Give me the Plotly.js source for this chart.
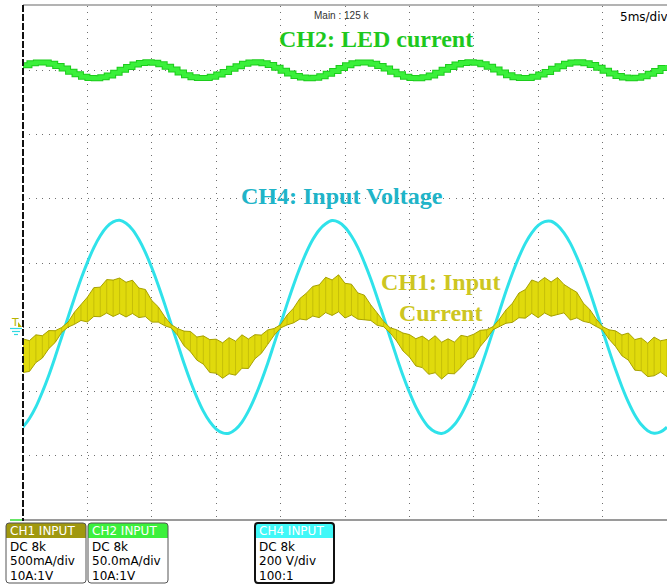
<!DOCTYPE html>
<html>
<head>
<meta charset="utf-8">
<script src="https://cdn.plot.ly/plotly-3.0.1.min.js"></script>
<style>
  html, body { margin: 0; padding: 0; background: #ffffff; }
  #scope { width: 667px; height: 585px; }
</style>
</head>
<body>
<div id="scope"></div>
<script>
// Sample interval of the acquisition (ms); 101 samples cover the 50 ms screen.
const STEP_MS = 0.5;

// CH4: input voltage (V)
const ch4Volts = [
  -311, -284, -248, -202, -150, -92, -31, 31, 92, 150,
  202, 248, 285, 312, 328, 333, 324, 304, 273, 233,
  185, 131, 72, 10, -51, -112, -168, -218, -261, -294,
  -317, -329, -330, -318, -295, -261, -218, -168, -112, -51,
  10, 72, 131, 185, 233, 273, 303, 322, 332, 327,
  311, 284, 248, 202, 150, 92, 31, -31, -92, -150,
  -202, -248, -284, -311, -326, -331, -322, -303, -273, -233,
  -185, -131, -72, -10, 51, 112, 168, 218, 261, 294,
  317, 329, 330, 317, 294, 261, 218, 168, 112, 51,
  -10, -72, -131, -185, -233, -273, -303, -322, -330, -326,
  -311
];

// CH1: input current, upper edge of the noisy band (mA)
const ch1HiMilliamps = [
  -91, -104, -59, -66, -26, -27, -2, 40, 118, 174,
  234, 308, 312, 371, 367, 383, 350, 366, 305, 294,
  208, 159, 83, 21, -10, -30, -33, -76, -67, -96,
  -93, -121, -81, -108, -59, -91, -58, -61, -21, -10,
  20, 95, 148, 224, 265, 318, 330, 389, 368, 408,
  342, 335, 267, 250, 174, 111, 45, -4, -19, -45,
  -57, -89, -69, -105, -66, -117, -90, -116, -63, -73,
  -54, -24, -19, 5, 65, 135, 187, 266, 293, 368,
  349, 387, 352, 387, 333, 301, 272, 188, 139, 65,
  5, -20, -28, -60, -45, -96, -84, -124, -77, -105,
  -95
];

// CH1: input current, lower edge of the noisy band (mA)
const ch1LoMilliamps = [
  -352, -344, -275, -240, -167, -118, -41, 1, 23, 53,
  41, 84, 82, 111, 84, 107, 80, 107, 75, 83,
  40, 40, 12, -5, -62, -144, -190, -256, -287, -352,
  -358, -397, -362, -373, -319, -321, -246, -204, -133, -62,
  -6, 18, 34, 64, 57, 87, 75, 114, 92, 120,
  72, 95, 63, 60, 53, 15, 4, -43, -106, -184,
  -231, -301, -314, -366, -354, -403, -360, -362, -314, -252,
  -233, -150, -90, -19, 6, 31, 38, 74, 71, 108,
  74, 111, 86, 98, 112, 56, 73, 46, 35, 6,
  -20, -93, -149, -222, -256, -334, -339, -384, -378, -349,
  -385
];

// CH2: LED current (mA)
const ch2Milliamps = [
  353.9, 355.4, 356.1, 356.0, 355.1, 353.4, 351.3, 348.9, 346.8, 345.0,
  344.0, 343.8, 344.5, 346.0, 348.0, 350.3, 352.5, 354.4, 355.7, 356.2,
  355.8, 354.6, 352.7, 350.5, 348.2, 346.1, 344.6, 343.9, 344.0, 344.9,
  346.6, 348.7, 351.1, 353.2, 355.0, 356.0, 356.2, 355.5, 354.0, 352.0,
  349.7, 347.5, 345.6, 344.3, 343.8, 344.2, 345.4, 347.3, 349.5, 351.8,
  353.9, 355.4, 356.1, 356.0, 355.1, 353.4, 351.3, 348.9, 346.8, 345.0,
  344.0, 343.8, 344.5, 346.0, 348.0, 350.3, 352.5, 354.4, 355.7, 356.2,
  355.8, 354.6, 352.7, 350.5, 348.2, 346.1, 344.6, 343.9, 344.0, 344.9,
  346.6, 348.7, 351.1, 353.2, 355.0, 356.0, 356.2, 355.5, 354.0, 352.0,
  349.7, 347.5, 345.6, 344.3, 343.8, 344.2, 345.4, 347.3, 349.5, 351.8,
  353.9
];

// Channel setup boxes under the screen
const boxHeaders  = ['CH1 INPUT', 'CH2 INPUT', 'CH4 INPUT'];
const boxCoupling = ['DC 8k', 'DC 8k', 'DC 8k'];
const boxScale    = ['500mA/div', '50.0mA/div', '200 V/div'];
const boxProbe    = ['10A:1V', '10A:1V', '100:1'];

const timeMs = ch4Volts.map((_, i) => i * STEP_MS);

// Vertical noise strokes of the CH1 band, one per sample, from its lower to its upper edge
const strokeX = [], strokeY = [];
timeMs.forEach((t, i) => {
  strokeX.push(t, t, null);
  strokeY.push(ch1LoMilliamps[i], ch1HiMilliamps[i], null);
});

// ---- screen geometry (pixels) ----
const PL = 23, PT = 6, PW = 644, PH = 514;
const X = px => (px - PL) / PW;
const Y = py => (PT + PH - py) / PH;

function roundRect(x0, y0, x1, y1, r, topOnly) {
  const rb = topOnly ? 0 : r;
  return `M ${X(x0 + r)},${Y(y0)} L ${X(x1 - r)},${Y(y0)} Q ${X(x1)},${Y(y0)} ${X(x1)},${Y(y0 + r)} ` +
         `L ${X(x1)},${Y(y1 - rb)} Q ${X(x1)},${Y(y1)} ${X(x1 - rb)},${Y(y1)} ` +
         `L ${X(x0 + rb)},${Y(y1)} Q ${X(x0)},${Y(y1)} ${X(x0)},${Y(y1 - rb)} ` +
         `L ${X(x0)},${Y(y0 + r)} Q ${X(x0)},${Y(y0)} ${X(x0 + r)},${Y(y0)} Z`;
}

// Main y axis carries CH4 (200 V/div); CH1 and CH2 ride on overlaid axes.
const traces = [
  // CH1 band: lower edge, then upper edge filled down to it
  { x: timeMs, y: ch1LoMilliamps, yaxis: 'y2', mode: 'lines',
    line: { color: '#a8a200', width: 1 }, hoverinfo: 'skip' },
  { x: timeMs, y: ch1HiMilliamps, yaxis: 'y2', mode: 'lines', fill: 'tonexty',
    fillcolor: '#e0da0c', line: { color: '#a8a200', width: 1 }, hoverinfo: 'skip' },
  { x: strokeX, y: strokeY, yaxis: 'y2', mode: 'lines', connectgaps: false,
    line: { color: 'rgba(135,130,0,0.3)', width: 1 }, hoverinfo: 'skip' },
  // CH4 voltage
  { x: timeMs, y: ch4Volts, yaxis: 'y', mode: 'lines',
    line: { color: '#2fe2ea', width: 3, shape: 'spline' }, hoverinfo: 'skip' },
  // CH2 LED current, stepped like the scope's pixel trace
  { x: timeMs, y: ch2Milliamps, yaxis: 'y3', mode: 'lines',
    line: { color: '#1ccc1c', width: 6, shape: 'hv' }, hoverinfo: 'skip' },
  { x: timeMs, y: ch2Milliamps, yaxis: 'y3', mode: 'lines',
    line: { color: '#3af03a', width: 4, shape: 'hv' }, hoverinfo: 'skip' }
];

const shapes = [
  // screen borders
  { type: 'line', xref: 'paper', yref: 'paper', x0: X(23), x1: X(667), y0: Y(5), y1: Y(5),
    line: { color: '#9a9a9a', width: 1.5 } },
  { type: 'line', xref: 'paper', yref: 'paper', x0: X(23), x1: X(667), y0: Y(520), y1: Y(520),
    line: { color: '#9a9a9a', width: 2 } },
  { type: 'line', xref: 'paper', yref: 'paper', x0: X(23), x1: X(23), y0: Y(5), y1: Y(521),
    line: { color: '#111111', width: 2, dash: '7px,2px' } },
  // CH2 ground marker
  { type: 'line', xref: 'paper', yref: 'paper', x0: X(10), x1: X(22), y0: Y(520), y1: Y(520),
    line: { color: '#33dd33', width: 1.5 } },
  // trigger flag
  { type: 'path', xref: 'paper', yref: 'paper',
    path: `M ${X(18)},${Y(322)} L ${X(22)},${Y(327)} L ${X(18)},${Y(327)} Z`,
    fillcolor: '#b8b400', line: { width: 0 } },
  // CH4 ground symbol
  { type: 'line', xref: 'paper', yref: 'paper', x0: X(10), x1: X(22), y0: Y(328.5), y1: Y(328.5),
    line: { color: '#30d8e0', width: 1.2 } },
  { type: 'line', xref: 'paper', yref: 'paper', x0: X(12), x1: X(20), y0: Y(331.5), y1: Y(331.5),
    line: { color: '#30d8e0', width: 1.2 } },
  { type: 'line', xref: 'paper', yref: 'paper', x0: X(14), x1: X(18), y0: Y(334.5), y1: Y(334.5),
    line: { color: '#30d8e0', width: 1.2 } }
];

const annotations = [
  { text: 'CH2: LED current', x: X(376), y: Y(39), xref: 'paper', yref: 'paper',
    showarrow: false, xanchor: 'center', yanchor: 'middle',
    font: { family: 'Liberation Serif', size: 24, weight: 'bold', color: '#1ec81e' } },
  { text: 'CH4: Input Voltage', x: X(342), y: Y(196), xref: 'paper', yref: 'paper',
    showarrow: false, xanchor: 'center', yanchor: 'middle',
    font: { family: 'Liberation Serif', size: 24, weight: 'bold', color: '#20b4c8' } },
  { text: 'CH1: Input<br>Current', x: X(441), y: Y(297), xref: 'paper', yref: 'paper',
    showarrow: false, xanchor: 'center', yanchor: 'middle', align: 'center',
    font: { family: 'Liberation Serif', size: 24, weight: 'bold', color: '#cdc622' } },
  { text: 'Main : 125 k', x: X(341), y: Y(15), xref: 'paper', yref: 'paper',
    showarrow: false, xanchor: 'center', yanchor: 'middle',
    font: { family: 'Liberation Sans', size: 10, color: '#333333' } },
  { text: '5ms/div', x: X(618), y: Y(17), xref: 'paper', yref: 'paper',
    showarrow: false, xanchor: 'left', yanchor: 'middle',
    font: { family: 'DejaVu Sans', size: 12, color: '#000000' } },
  { text: 'T', x: X(9), y: Y(322), xref: 'paper', yref: 'paper',
    showarrow: false, xanchor: 'left', yanchor: 'middle',
    font: { family: 'DejaVu Sans', size: 11, color: '#b8b400' } }
];

// channel setup boxes
const boxLeft  = [6, 88, 255];
const boxRight = [86, 168, 334];
const boxTop = 523, boxHeadBottom = 538, boxBottom = 583;
const headColors = ['#a0980f', '#3cf03c', '#40f8f8'];
const rimColors  = ['#555555', '#555555', '#111111'];
const rimWidths  = [1, 1, 2];

boxHeaders.forEach((h, k) => {
  const x0 = boxLeft[k], x1 = boxRight[k];
  shapes.push({ type: 'path', xref: 'paper', yref: 'paper',
    path: roundRect(x0, boxTop, x1, boxBottom, 3, false),
    fillcolor: '#ffffff', line: { width: 0 } });
  shapes.push({ type: 'path', xref: 'paper', yref: 'paper',
    path: roundRect(x0, boxTop, x1, boxHeadBottom, 3, true),
    fillcolor: headColors[k], line: { width: 0 } });
  shapes.push({ type: 'path', xref: 'paper', yref: 'paper',
    path: roundRect(x0, boxTop, x1, boxBottom, 3, false),
    fillcolor: 'rgba(0,0,0,0)', line: { color: rimColors[k], width: rimWidths[k] } });
  const rows = [[h, 531, '#ffffff'], [boxCoupling[k], 547, '#000000'],
                [boxScale[k], 561, '#000000'], [boxProbe[k], 575.5, '#000000']];
  rows.forEach(([txt, py, col]) => {
    annotations.push({ text: txt, x: X(x0 + 1.5), y: Y(py), xref: 'paper', yref: 'paper',
      showarrow: false, xanchor: 'left', yanchor: 'middle',
      font: { family: 'DejaVu Sans', size: 12, color: col } });
  });
});

const gridDots = '1px,5.46px';
const hiddenAxis = { overlaying: 'y', showgrid: false, zeroline: false, showline: false,
  showticklabels: false, ticks: '' };
const layout = {
  width: 667, height: 585,
  margin: { l: PL, r: 0, t: PT, b: 585 - PT - PH, pad: 0 },
  paper_bgcolor: '#ffffff', plot_bgcolor: '#ffffff',
  showlegend: false,
  xaxis: { range: [0, (667 - PL) / PW * 50], dtick: 5, tick0: 0,
    showgrid: true, gridcolor: '#6f6f6f', gridwidth: 1, griddash: gridDots,
    zeroline: false, showline: false, showticklabels: false, ticks: '' },
  // CH4 scale: 200 V/div, ground 3 divisions above the bottom edge
  yaxis: { range: [-600, 1000], dtick: 200, tick0: 0,
    showgrid: true, gridcolor: '#6f6f6f', gridwidth: 1, griddash: gridDots,
    zeroline: false, showline: false, showticklabels: false, ticks: '' },
  // CH1 scale: 500 mA/div, same ground level
  yaxis2: Object.assign({ range: [-1500, 2500] }, hiddenAxis),
  // CH2 scale: 50 mA/div, ground at the bottom edge
  yaxis3: Object.assign({ range: [0, 400] }, hiddenAxis),
  shapes: shapes,
  annotations: annotations
};

Plotly.newPlot('scope', traces, layout, { staticPlot: true, displayModeBar: false });
</script>
</body>
</html>
